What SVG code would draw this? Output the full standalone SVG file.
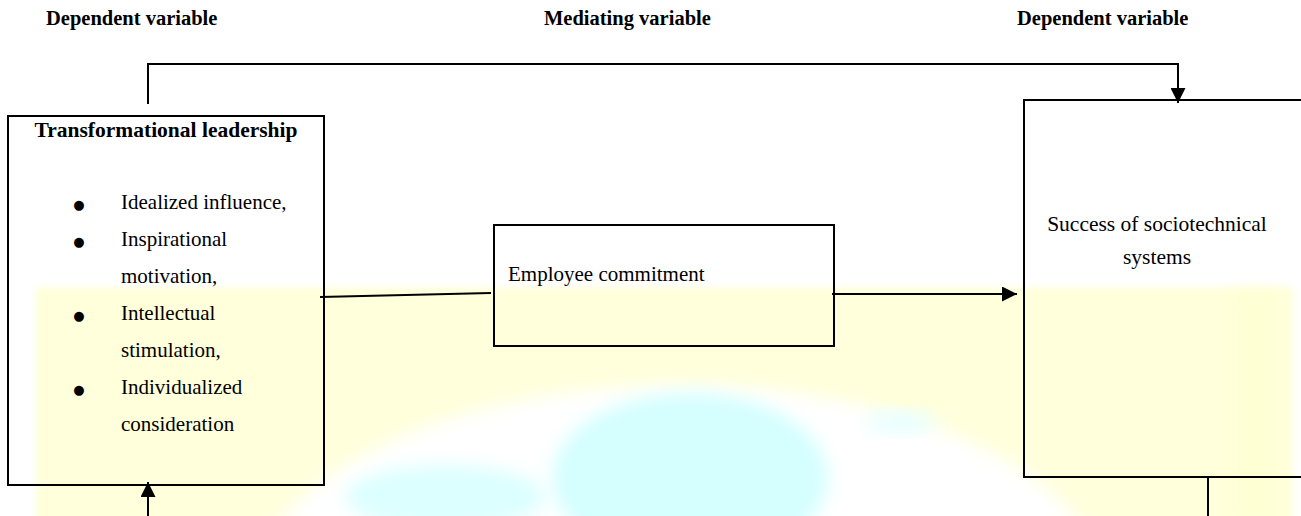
<svg xmlns="http://www.w3.org/2000/svg" width="1301" height="516" viewBox="0 0 1301 516">
  <defs>
    <style>
      .hd { font-family: "Liberation Serif", "Times New Roman", serif; font-weight: bold; font-size: 20.5px; fill: #000; }
      .ttl { font-family: "Liberation Serif", "Times New Roman", serif; font-weight: bold; font-size: 21.5px; fill: #000; }
      .txt { font-family: "Liberation Serif", "Times New Roman", serif; font-size: 21px; fill: #000; }
      .bul { font-family: "DejaVu Sans", sans-serif; font-size: 13px; fill: #000; }
      .box { fill: none; stroke: #000; stroke-width: 2; }
      .con { fill: none; stroke: #000; stroke-width: 2; }
    </style>
    <marker id="arrow" viewBox="0 0 10 10" refX="10" refY="5" markerWidth="7.5" markerHeight="7.5" markerUnits="strokeWidth" orient="auto">
      <path d="M0,0 L10,5 L0,10 z" fill="#000"/>
    </marker>
    <filter id="soft" x="-20%" y="-20%" width="140%" height="140%">
      <feGaussianBlur stdDeviation="9"/>
    </filter>
    <filter id="softEdge" x="-5%" y="-20%" width="110%" height="140%">
      <feGaussianBlur stdDeviation="3"/>
    </filter>
  </defs>

  <rect width="1301" height="516" fill="#fff"/>

  <!-- pale background band with globe -->
  <g id="backdrop">
    <rect x="36" y="287" width="1257" height="240" fill="#ffffdb" filter="url(#softEdge)"/>
    <rect x="1232" y="287" width="45" height="240" fill="#ffffc8" opacity="0.35" filter="url(#soft)"/>
    <ellipse cx="680" cy="600" rx="430" ry="215" fill="#fff" filter="url(#soft)"/>
    <ellipse cx="690" cy="478" rx="138" ry="85" fill="#d4feff" filter="url(#soft)"/>
    <ellipse cx="445" cy="497" rx="100" ry="32" fill="#dcffff" filter="url(#soft)"/>
    <ellipse cx="900" cy="422" rx="35" ry="12" fill="#e8ffff" filter="url(#soft)"/>
  </g>

  <!-- column headings -->
  <g id="headings">
    <text class="hd" x="46" y="25">Dependent variable</text>
    <text class="hd" x="544" y="25">Mediating variable</text>
    <text class="hd" x="1017" y="25">Dependent variable</text>
  </g>

  <g id="connectors">
    <!-- leadership to success, over the top -->
    <polyline class="con" points="148,104 148,64 1178,64 1178,103" marker-end="url(#arrow)"/>
    <!-- leadership to commitment -->
    <line class="con" x1="320" y1="297" x2="491" y2="293"/>
    <!-- commitment to success -->
    <line class="con" x1="832" y1="294" x2="1017" y2="294" marker-end="url(#arrow)"/>
    <!-- from below into leadership -->
    <line class="con" x1="148" y1="516" x2="148" y2="482" marker-end="url(#arrow)"/>
    <!-- below success -->
    <line class="con" x1="1208" y1="478" x2="1208" y2="516"/>
  </g>

  <g id="leadership">
    <rect class="box" x="8" y="116" width="316" height="369"/>
    <text class="ttl" x="166" y="137" text-anchor="middle">Transformational leadership</text>
    <text class="bul" x="79" y="209" text-anchor="middle">●</text>
    <text class="txt" x="121" y="209">Idealized influence,</text>
    <text class="bul" x="79" y="246" text-anchor="middle">●</text>
    <text class="txt" x="121" y="246">Inspirational</text>
    <text class="txt" x="121" y="283">motivation,</text>
    <text class="bul" x="79" y="320" text-anchor="middle">●</text>
    <text class="txt" x="121" y="320">Intellectual</text>
    <text class="txt" x="121" y="357">stimulation,</text>
    <text class="bul" x="79" y="394" text-anchor="middle">●</text>
    <text class="txt" x="121" y="394">Individualized</text>
    <text class="txt" x="121" y="431">consideration</text>
  </g>

  <g id="commitment">
    <rect class="box" x="494" y="225" width="340" height="121"/>
    <text class="txt" x="508" y="281">Employee commitment</text>
  </g>

  <g id="success">
    <path class="box" d="M1310,100 H1024 V477 H1310"/>
    <text class="txt" x="1157" y="231" text-anchor="middle" style="font-size:21.5px">Success of sociotechnical</text>
    <text class="txt" x="1157" y="264" text-anchor="middle" style="font-size:21.5px">systems</text>
  </g>
</svg>
